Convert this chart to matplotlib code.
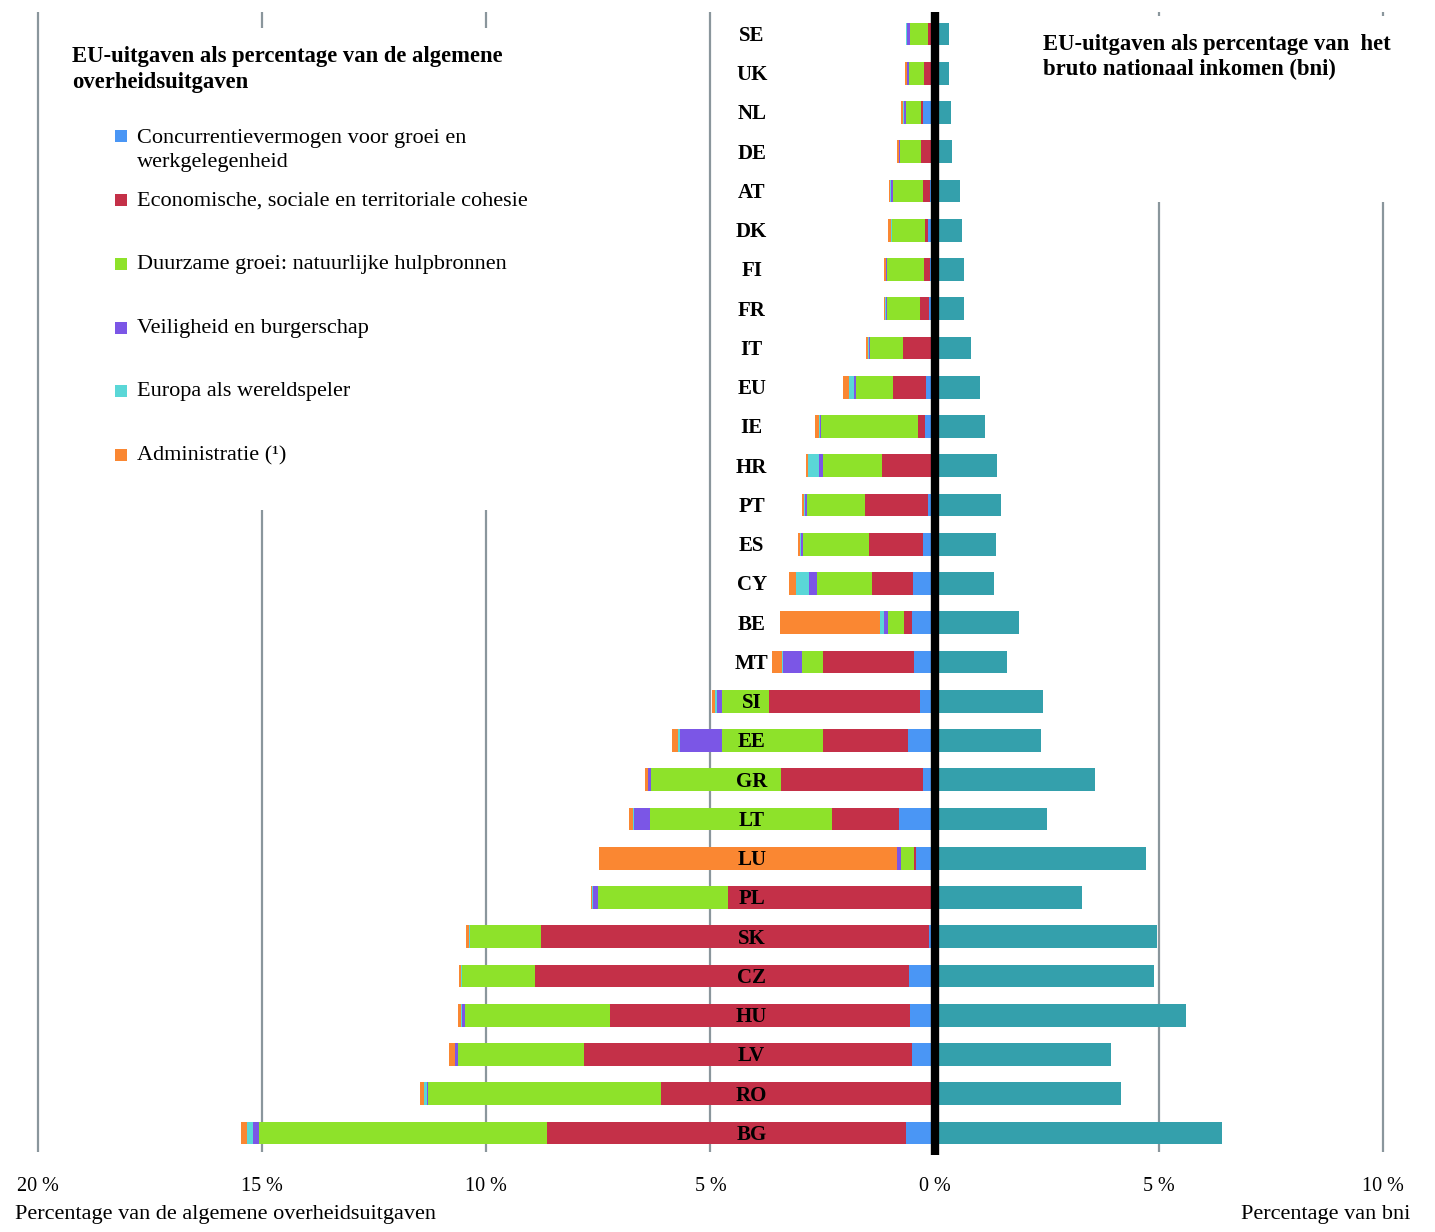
import matplotlib
matplotlib.use("Agg")
import matplotlib.pyplot as plt
from matplotlib.patches import Rectangle
import numpy as np

plt.rcParams['font.family'] = ['Liberation Serif', 'DejaVu Serif']

countries = ['SE','UK','NL','DE','AT','DK','FI','FR','IT','EU','IE','HR','PT','ES','CY',
             'BE','MT','SI','EE','GR','LT','LU','PL','SK','CZ','HU','LV','RO','BG']
blue   = [0.05,0.07,0.25,0.04,0.10,0.15,0.10,0.12,0.05,0.20,0.22,0.08,0.15,0.27,0.49,
          0.51,0.47,0.33,0.60,0.25,0.80,0.42,0.05,0.12,0.58,0.54,0.51,0.06,0.64]
red    = [0.10,0.17,0.05,0.27,0.17,0.07,0.13,0.20,0.65,0.73,0.16,1.10,1.40,1.20,0.90,
          0.18,2.03,3.37,1.90,3.17,1.50,0.03,4.55,8.66,8.33,6.70,7.32,6.04,8.00]
green  = [0.40,0.33,0.33,0.47,0.67,0.73,0.83,0.75,0.74,0.83,2.15,1.30,1.30,1.47,1.23,
          0.36,0.47,1.05,2.25,2.90,4.06,0.29,2.90,1.58,1.63,3.24,2.81,5.20,6.43]
purple = [0.07,0.04,0.06,0.01,0.03,0.01,0.02,0.02,0.03,0.03,0.03,0.10,0.05,0.05,0.18,
          0.07,0.42,0.11,0.94,0.07,0.34,0.09,0.13,0.01,0.01,0.07,0.05,0.02,0.13]
cyan   = [0.01,0.01,0.01,0.01,0.03,0.01,0.01,0.01,0.02,0.12,0.02,0.24,0.02,0.01,0.29,
          0.11,0.01,0.03,0.04,0.01,0.02,0.01,0.01,0.01,0.01,0.01,0.02,0.06,0.13]
orange = [0.02,0.04,0.05,0.05,0.01,0.07,0.03,0.04,0.05,0.13,0.09,0.05,0.05,0.04,0.16,
          2.23,0.22,0.07,0.13,0.06,0.09,6.64,0.02,0.08,0.06,0.07,0.12,0.09,0.14]
gni    = [0.33,0.33,0.36,0.38,0.56,0.60,0.66,0.66,0.80,1.02,1.13,1.38,1.49,1.36,1.33,
          1.87,1.62,2.42,2.38,3.58,2.51,4.71,3.29,4.96,4.89,5.60,3.93,4.16,6.42]

series_names = ['Concurrentievermogen voor groei en\nwerkgelegenheid',
                'Economische, sociale en territoriale cohesie',
                'Duurzame groei: natuurlijke hulpbronnen',
                'Veiligheid en burgerschap',
                'Europa als wereldspeler',
                'Administratie (¹)']
series_colors = ['#4A96F5', '#C43048', '#8EE22A', '#7B56E6', '#5AD7D7', '#FA8732']
gni_color = '#34A0AC'

tick_pos = [-20, -15, -10, -5, 0, 5, 10]
tick_labels = ['20 %', '15 %', '10 %', '5 %', '0 %', '5 %', '10 %']

W, H = 1435, 1232
fig = plt.figure(figsize=(W/100, H/100), dpi=100)
bottom_px = 1160
ax = fig.add_axes([0, 1 - bottom_px/H, 1, bottom_px/H])
pitch = 39.25
y0 = 34
def py(p):
    return (p - y0) / pitch
ax.set_ylim(py(bottom_px), py(0))
ax.set_xlim(-20 - 38/44.83, 10 + (W-1383)/44.83)
for s in ax.spines.values():
    s.set_visible(False)
ax.set_yticks([])
ax.set_xticks(tick_pos)
ax.set_xticklabels(tick_labels, fontsize=14.5)
ax.tick_params(axis='x', length=0, pad=12)

y = np.arange(len(countries))
grid_color = '#8A969C'
for xv in tick_pos:
    if xv == 0:
        continue
    ax.vlines(xv, py(12), py(1152), color=grid_color, lw=1.6, zorder=0.5)
# white panels behind the legend/title texts
ax.add_patch(Rectangle((-19.6, py(510)), 13.4, py(28) - py(510),
                       facecolor='white', edgecolor='none', zorder=1))
ax.add_patch(Rectangle((1.5, py(202)), 9.6, py(16) - py(202),
                       facecolor='white', edgecolor='none', zorder=1))

bh = 0.58
left = np.zeros(len(countries))
for vals, col in zip([blue, red, green, purple, cyan, orange], series_colors):
    v = np.array(vals)
    ax.barh(y, -v, left=-left, height=bh, color=col, zorder=2, linewidth=0)
    left += v
ax.barh(y, gni, left=0, height=bh, color=gni_color, zorder=2, linewidth=0)
ax.vlines(0, py(12), py(1155), color='black', lw=6, zorder=3)

for yi, c in zip(y, countries):
    ax.text(-4.08, yi + 0.05, c, ha='center', va='center', fontsize=15,
            fontweight='bold', zorder=4)

# titles
fig.text(72/W, 1 - 69.5/H, 'EU-uitgaven als percentage van de algemene\noverheidsuitgaven',
         ha='left', va='center', fontsize=16.3, fontweight='bold', linespacing=1.3)
fig.text(1043/W, 1 - 57/H, 'EU-uitgaven als percentage van  het\nbruto nationaal inkomen (bni)',
         ha='left', va='center', fontsize=16.3, fontweight='bold', linespacing=1.22)

# legend
leg_y = [136, 200, 264, 328, 391, 455]
for i, (ly, name, col) in enumerate(zip(leg_y, series_names, series_colors)):
    fig.patches.append(Rectangle((115/W, 1 - (ly + 6)/H), 12/W, 12/H,
                                 transform=fig.transFigure, facecolor=col,
                                 edgecolor='none', zorder=5))
    ty = ly + 14.5 if '\n' in name else ly + 1
    fig.text(137/W, 1 - ty/H, name, ha='left', va='center', fontsize=16,
             linespacing=1.33)

fig.text(15/W, 1 - 1215/H, 'Percentage van de algemene overheidsuitgaven',
         ha='left', va='center', fontsize=16)
fig.text(1410/W, 1 - 1215/H, 'Percentage van bni', ha='right', va='center', fontsize=16)

fig.savefig('out.png', dpi=100)
